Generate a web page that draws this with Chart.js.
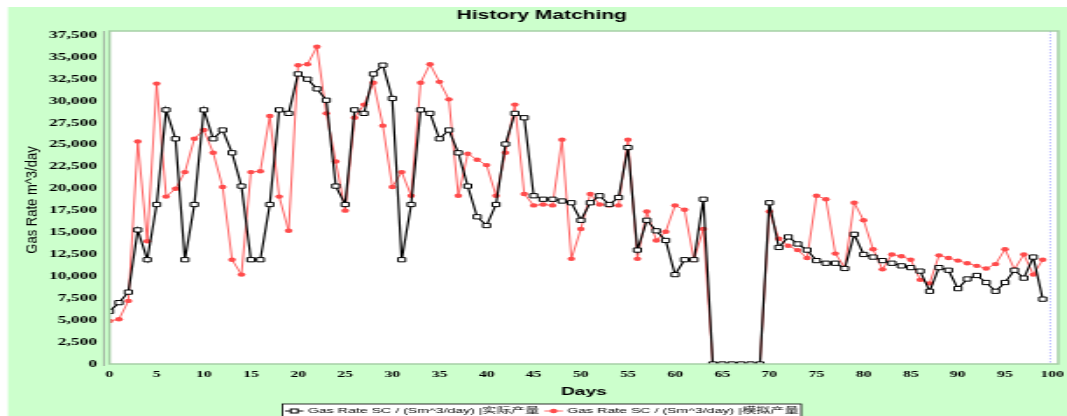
<!DOCTYPE html>
<html>
<head>
<meta charset="utf-8">
<title>History Matching</title>
<script src="https://cdn.jsdelivr.net/npm/chart.js@4.4.1/dist/chart.umd.min.js"></script>
<style>
  html, body { margin: 0; padding: 0; background: #fff; overflow: hidden; width: 1067px; height: 416px; }
  /* the chart is laid out on a narrow canvas and widened horizontally */
  #wrap { width: 610px; height: 416px; transform: scaleX(1.74918); transform-origin: 0 0; }
  canvas { display: block; }
</style>
</head>
<body>
<div id="wrap"><canvas id="c" width="610" height="416"></canvas></div>
<script>
// Day index of every sample
const days = [
  0, 1, 2, 3, 4, 5, 6, 7, 8, 9, 10, 11, 12, 13, 14, 15, 16, 17, 18, 19,
  20, 21, 22, 23, 24, 25, 26, 27, 28, 29, 30, 31, 32, 33, 34, 35, 36, 37, 38, 39,
  40, 41, 42, 43, 44, 45, 46, 47, 48, 49, 50, 51, 52, 53, 54, 55, 56, 57, 58, 59,
  60, 61, 62, 63, 64, 65, 66, 67, 68, 69, 70, 71, 72, 73, 74, 75, 76, 77, 78, 79,
  80, 81, 82, 83, 84, 85, 86, 87, 88, 89, 90, 91, 92, 93, 94, 95, 96, 97, 98, 99
];

// Measured gas rate (Sm^3/day)
const actualRate = [
  6000, 7000, 8200, 15300, 11900, 18200, 29000, 25700, 11900, 18200,
  29000, 25700, 26700, 24100, 20300, 11900, 11900, 18200, 29000, 28600,
  33100, 32500, 31400, 30100, 20300, 18200, 29000, 28600, 33100, 34100,
  30300, 11900, 18200, 29000, 28600, 25700, 26700, 24100, 20300, 16800,
  15800, 18200, 25100, 28600, 28100, 19200, 18800, 18800, 18600, 18400,
  16400, 18400, 19200, 18200, 19000, 24700, 13000, 16400, 15200, 14100,
  10200, 11900, 11900, 18800, 0, 0, 0, 0, 0, 0,
  18400, 13300, 14500, 13700, 13000, 11800, 11500, 11500, 10900, 14800,
  12500, 12200, 11800, 11500, 11200, 11000, 10600, 8300, 11000, 10700,
  8600, 9700, 10100, 9300, 8300, 9300, 10700, 9800, 12200, 7400
];

// Simulated gas rate (Sm^3/day)
const simulatedRate = [
  4900, 5100, 7200, 25400, 14000, 32000, 19100, 20000, 21900, 25700,
  26700, 24100, 20200, 11900, 10200, 21900, 22000, 28300, 19100, 15200,
  34100, 34200, 36200, 28600, 23100, 17500, 28100, 29600, 32100, 27200,
  20200, 21900, 19200, 32100, 34200, 32200, 30200, 19200, 24000, 23300,
  22700, 19200, 24100, 29600, 19400, 18100, 18200, 18100, 25600, 12000,
  15400, 19400, 18200, 18100, 18100, 25600, 12000, 17400, 14100, 15100,
  18100, 17600, 11900, 15400, 0, 0, 0, 0, 0, 0,
  17400, 14300, 13500, 13000, 12100, 19200, 18800, 12600, 11000, 18400,
  16400, 13100, 10800, 12500, 12300, 11900, 9600, 9200, 12400, 12100,
  11800, 11500, 11200, 10900, 11400, 13100, 10800, 12500, 10200, 11900
];

// Axis ticks and texts
const xTicks = [0, 5, 10, 15, 20, 25, 30, 35, 40, 45, 50, 55, 60, 65, 70, 75, 80, 85, 90, 95, 100];
const yTicks = [0, 2500, 5000, 7500, 10000, 12500, 15000, 17500, 20000, 22500, 25000, 27500, 30000, 32500, 35000, 37500];
const seriesLabels = ['Gas Rate SC / (Sm^3/day) |实际产量', 'Gas Rate SC / (Sm^3/day) |模拟产量'];
const chartTitle = 'History Matching';
const xTitle = 'Days';
const yTitle = 'Gas Rate m^3/day';
const markerDay = 99.8;   // dotted vertical "current day" marker

const SX = 1067 / 610;    // horizontal widening applied by CSS

const toPoints = (vals) => vals.map((v, i) => ({ x: days[i], y: v }));

// backgrounds, plot frame, axis line, day marker, y title and legend box
const framePlugin = {
  id: 'frame',
  beforeDraw(chart) {
    const { ctx, chartArea: a, width, height } = chart;
    ctx.save();
    ctx.fillStyle = '#ffffff';
    ctx.fillRect(0, 0, width, height);
    ctx.fillStyle = '#ccffcc';
    ctx.fillRect(8 / SX, 7, width, height);
    ctx.fillStyle = '#ffffff';
    ctx.fillRect(a.left, a.top, a.right - a.left, a.bottom - a.top);
    ctx.restore();
  },
  afterDatasetsDraw(chart) {
    const { ctx, chartArea: a, scales: { x } } = chart;
    ctx.save();
    const xm = x.getPixelForValue(markerDay);
    ctx.strokeStyle = '#8f8fff';
    ctx.lineWidth = 0.6;
    ctx.setLineDash([1.5, 1.5]);
    ctx.beginPath();
    ctx.moveTo(xm, a.top);
    ctx.lineTo(xm, a.bottom);
    ctx.stroke();
    ctx.setLineDash([]);
    ctx.strokeStyle = '#a6cfa6';
    ctx.lineWidth = 1.5;
    ctx.strokeRect(a.left, a.top, a.right - a.left, a.bottom - a.top);
    ctx.strokeStyle = '#8c8c8c';
    ctx.lineWidth = 0.7;
    const ax = a.left - 3.2;
    ctx.beginPath();
    ctx.moveTo(ax, a.top);
    ctx.lineTo(ax, a.bottom + 2);
    ctx.stroke();
    ctx.restore();
  },
  afterDraw(chart) {
    const { ctx } = chart;
    // rotated y-axis title, kept at its natural proportions
    ctx.save();
    ctx.translate(32 / SX, 200);
    ctx.scale(0.72, 1);
    ctx.rotate(-Math.PI / 2);
    ctx.font = '13px "Liberation Sans", Arial, sans-serif';
    ctx.fillStyle = '#000';
    ctx.textAlign = 'center';
    ctx.textBaseline = 'middle';
    ctx.fillText(yTitle, 0, 0);
    ctx.restore();

    // boxed legend under the axis title
    ctx.save();
    ctx.font = '8.1px "Liberation Sans", "Noto Sans CJK SC", sans-serif';
    const symW = 10.5, gap = 2.5, itemGap = 3, pad = 1.5;
    const sets = chart.data.datasets;
    const widths = sets.map(d => ctx.measureText(d.label).width);
    let total = pad * 2 + itemGap * (sets.length - 1);
    widths.forEach(w => { total += symW + gap + w; });
    const cx = (12 + chart.width - 2.5) / 2;
    const left = cx - total / 2, top = 404, cy = top + 7;
    ctx.fillStyle = '#ffffff';
    ctx.fillRect(left, top, total, 20);
    ctx.strokeStyle = '#000';
    ctx.lineWidth = 0.8;
    ctx.strokeRect(left, top, total, 20);
    let px = left + pad;
    sets.forEach((d, i) => {
      ctx.strokeStyle = d.borderColor;
      ctx.lineWidth = 1;
      ctx.beginPath();
      ctx.moveTo(px, cy);
      ctx.lineTo(px + symW, cy);
      ctx.stroke();
      const mx = px + symW / 2;
      ctx.fillStyle = d.pointBackgroundColor;
      ctx.strokeStyle = d.pointBorderColor;
      if (d.pointStyle === 'rect') {
        ctx.fillRect(mx - 2, cy - 2, 4, 4);
        ctx.strokeRect(mx - 2, cy - 2, 4, 4);
      } else {
        ctx.beginPath();
        ctx.arc(mx, cy, 2.2, 0, Math.PI * 2);
        ctx.fill();
      }
      ctx.fillStyle = '#000';
      ctx.textAlign = 'left';
      ctx.textBaseline = 'middle';
      ctx.fillText(d.label, px + symW + gap, cy);
      px += symW + gap + widths[i] + itemGap;
    });
    ctx.restore();
  }
};

new Chart(document.getElementById('c'), {
  type: 'line',
  data: {
    datasets: [
      {
        label: seriesLabels[0],
        data: toPoints(actualRate),
        borderColor: '#000000',
        borderWidth: 1.2,
        pointStyle: 'rect',
        pointRadius: 3,
        pointBorderWidth: 1,
        pointBackgroundColor: '#ffffff',
        pointBorderColor: '#000000',
        tension: 0
      },
      {
        label: seriesLabels[1],
        data: toPoints(simulatedRate),
        borderColor: 'rgba(255,70,70,0.85)',
        borderWidth: 1,
        pointStyle: 'circle',
        pointRadius: 2.2,
        pointBorderWidth: 0,
        pointBackgroundColor: '#ff4b4b',
        pointBorderColor: '#ff4b4b',
        tension: 0
      }
    ]
  },
  options: {
    responsive: false,
    animation: false,
    devicePixelRatio: 1,
    layout: { padding: { left: 12, right: 2.5, top: 0, bottom: 0 } },
    plugins: {
      legend: { display: false },
      tooltip: { enabled: false },
      title: {
        display: true,
        text: chartTitle,
        color: '#000',
        font: { family: '"Liberation Sans", Arial, sans-serif', weight: 'bold', size: 12, lineHeight: 14 / 12 },
        padding: { top: 9, bottom: 8 }
      }
    },
    scales: {
      x: {
        type: 'linear',
        min: 0,
        max: 100.65,
        grid: { display: false, drawTicks: false },
        border: { display: false },
        afterBuildTicks(scale) { scale.ticks = xTicks.map(v => ({ value: v })); },
        afterFit(scale) { scale.height = 52; scale.paddingLeft = 0; scale.paddingRight = 0; },
        ticks: {
          autoSkip: false,
          maxRotation: 0,
          padding: 5.5,
          color: '#000',
          font: { family: '"Liberation Serif", "Times New Roman", serif', weight: 'bold', size: 9 },
          callback: (v) => String(v)
        },
        title: {
          display: true,
          text: xTitle,
          color: '#000',
          font: { family: '"Liberation Sans", Arial, sans-serif', weight: 'bold', size: 11, lineHeight: 1 },
          padding: { top: 0, bottom: 19 }
        }
      },
      y: {
        type: 'linear',
        min: 0,
        max: 38000,
        grid: { display: false, drawTicks: false },
        border: { display: false },
        afterBuildTicks(scale) { scale.ticks = yTicks.map(v => ({ value: v })); },
        afterFit(scale) { scale.width = 50.6; scale.paddingTop = 0; scale.paddingBottom = 0; },
        ticks: {
          padding: 7.2,
          color: '#000',
          font: { family: '"Liberation Serif", "Times New Roman", serif', weight: 'bold', size: 10 },
          callback: (v) => v.toLocaleString('en-US')
        }
      }
    }
  },
  plugins: [framePlugin]
});
</script>
</body>
</html>
